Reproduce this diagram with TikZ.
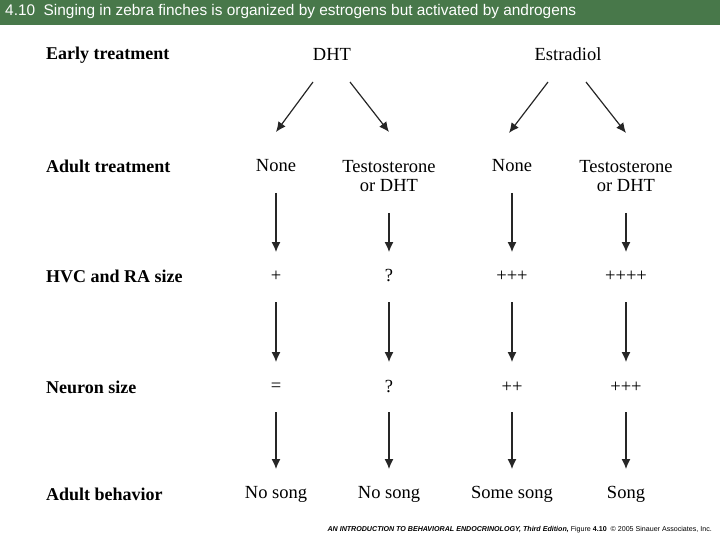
\documentclass[tikz,border=0pt]{standalone}
\usepackage{fontspec}
\setmainfont{Liberation Serif}
\newfontfamily\titlefont{Liberation Sans}
\usetikzlibrary{arrows.meta}
\usetikzlibrary{calc, math}
\definecolor{titlegreen}{RGB}{72,120,74}

\tikzset{
rowlabel/.style={anchor=west,inner sep=0pt,font=\bfseries\fontsize{18}{20}\selectfont},
entry/.style={align=center,inner sep=0pt,font=\fontsize{18.5}{19.5}\selectfont},
flow/.style={-{Latex[length=10pt,width=9pt]},line width=1.2pt,color=black!85},
}

\begin{document}
\begin{tikzpicture}[x=1pt,y=-1pt]
\tikzmath{
\ca=276; \cb=389; \cc=512; \cd=626;
}

\useasboundingbox (0,0) rectangle (720,540);
\fill[color=titlegreen] (0,0) rectangle (720,25);
\node[anchor=west,inner sep=0pt,text=white,font=\titlefont\fontsize{15.4}{16}\selectfont] (title) at (5,12) {4.10\ \ Singing in zebra finches is organized by estrogens but activated by androgens};

% row labels
\node[rowlabel] (early) at (46,55) {Early treatment};
\node[rowlabel] (adult) at (46,166) {Adult treatment};
\node[rowlabel] (hvc) at (46,276) {HVC and RA size};
\node[rowlabel] (neuron) at (46,387) {Neuron size};
\node[rowlabel] (behav) at (46,494) {Adult behavior};

% early treatment
\node[entry] (dht) at (332,54) {DHT};
\node[entry] (estr) at (568,54) {Estradiol};

% adult treatment
\node[entry] (ta) at (\ca,166) {None};
\node[entry] (tb) at (\cb,176) {Testosterone\\or DHT};
\node[entry] (tc) at (\cc,166) {None};
\node[entry] (td) at (\cd,176) {Testosterone\\or DHT};

% HVC and RA size
\node[entry] (ha) at (\ca,276) {+};
\node[entry] (hb) at (\cb,276) {?};
\node[entry] (hc) at (\cc,276) {+++};
\node[entry] (hd) at (\cd,276) {++++};

% neuron size
\node[entry] (na) at (\ca,387) {=};
\node[entry] (nb) at (\cb,387) {?};
\node[entry] (nc) at (\cc,387) {++};
\node[entry] (nd) at (\cd,387) {+++};

% adult behavior
\node[entry] (ba) at (\ca,494) {No song};
\node[entry] (bb) at (\cb,494) {No song};
\node[entry] (bc) at (\cc,494) {Some song};
\node[entry] (bd) at (\cd,494) {Song};

\draw[flow] ($(dht)+(-19,28)$) -- ($(ta)+(0,-34)$);
\draw[flow] ($(dht)+(18,28)$) -- ($(tb)+(0,-44)$);
\draw[flow] ($(estr)+(-20,28)$) -- ($(tc)+(-3,-33)$);
\draw[flow] ($(estr)+(18,28)$) -- ($(td)+(0,-43)$);

\foreach \c in {a,b,c,d}{
\draw[flow] ($(h\c)+(0,26)$) -- ($(n\c)+(0,-25)$);
\draw[flow] ($(n\c)+(0,25)$) -- ($(b\c)+(0,-25)$);
}
\draw[flow] ($(ta)+(0,27)$) -- ($(ha)+(0,-24)$);
\draw[flow] ($(tb)+(0,37)$) -- ($(hb)+(0,-24)$);
\draw[flow] ($(tc)+(0,27)$) -- ($(hc)+(0,-24)$);
\draw[flow] ($(td)+(0,37)$) -- ($(hd)+(0,-24)$);

\node[anchor=east,inner sep=0pt,font=\titlefont\fontsize{7.1}{8}\selectfont] (credit) at (712,530) {\textbf{\textit{AN INTRODUCTION TO BEHAVIORAL ENDOCRINOLOGY, Third Edition,}} Figure \textbf{4.10} \ \textcopyright\ 2005 Sinauer Associates, Inc.};

\end{tikzpicture}
\end{document}
